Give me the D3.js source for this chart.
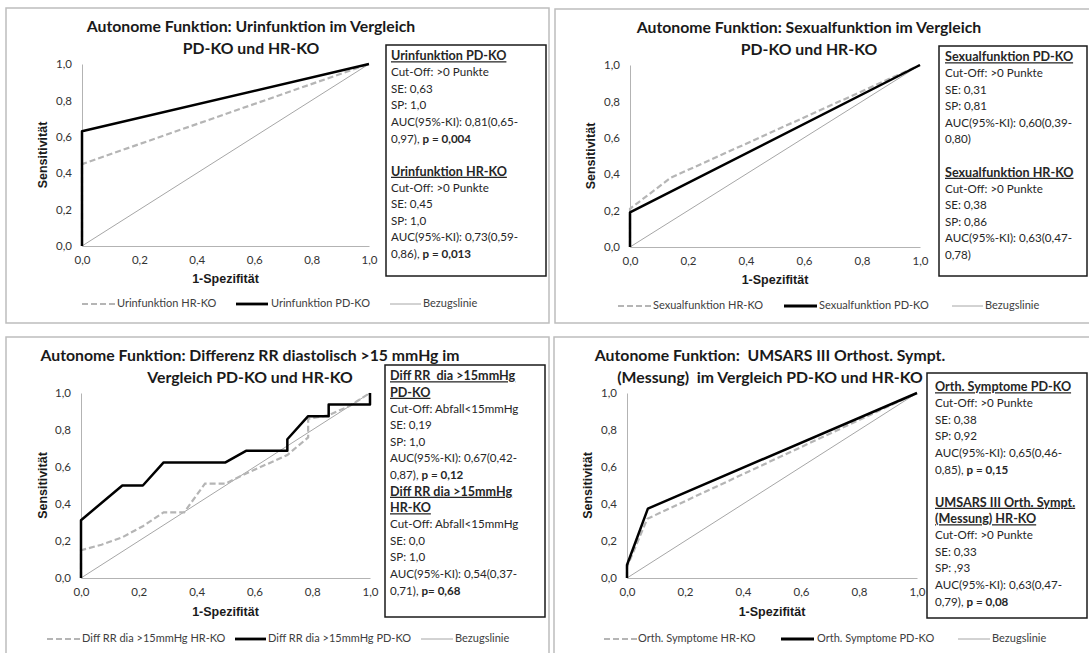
<!DOCTYPE html>
<html>
<head>
<meta charset="utf-8">
<script src="https://cdn.jsdelivr.net/npm/d3@7"></script>
<style>
  body { margin: 0; background: #fff; }
  text { font-family: Lato, "Open Sans", sans-serif; fill: #262626; white-space: pre; }
  .title { font-weight: bold; font-size: 15.8px; fill: #1a1a1a; }
  .tick text { font-size: 11.5px; fill: #333; }
  .axis-title { font-family: "Liberation Sans", Arial, sans-serif; font-weight: bold; font-size: 12.5px; fill: #1a1a1a; }
  .info { font-size: 11.6px; }
  .info-head { font-weight: bold; font-size: 12.6px; text-decoration: underline; }
  .legend-text { font-size: 11px; fill: #404040; }
</style>
</head>
<body>
<div id="chart"></div>
<script>
// ROC curves as [1-Spezifität, Sensitivität]
const ticks = [0, 0.2, 0.4, 0.6, 0.8, 1.0];
const diagonal = [[0, 0], [1, 1]];

const urinHR = [[0, 0], [0, 0.45], [1, 1]];
const urinPD = [[0, 0], [0, 0.63], [1, 1]];

const sexHR = [[0, 0], [0, 0.21], [0.14, 0.38], [1, 1]];
const sexPD = [[0, 0], [0, 0.19], [1, 1]];

const rrHR = [[0, 0], [0, 0.15], [0.071, 0.18], [0.143, 0.22], [0.214, 0.28], [0.286, 0.355], [0.357, 0.355],
  [0.429, 0.51], [0.5, 0.51], [0.571, 0.565], [0.643, 0.615], [0.714, 0.665], [0.786, 0.76], [0.786, 0.86],
  [0.857, 0.88], [0.929, 0.93], [1, 1]];
const rrPD = [[0, 0], [0, 0.3125], [0.143, 0.5], [0.214, 0.5], [0.286, 0.625], [0.5, 0.625], [0.571, 0.6875],
  [0.714, 0.6875], [0.714, 0.75], [0.786, 0.875], [0.857, 0.875], [0.857, 0.9375], [1, 0.9375], [1, 1]];

const orthHR = [[0, 0], [0, 0.06], [0.07, 0.32], [1, 1]];
const orthPD = [[0, 0], [0, 0.07], [0.072, 0.375], [1, 1]];

// titles, legend labels, info box lines ({h} = underlined header, [a, b] = a + bold b)
const urinTitle = ["Autonome Funktion: Urinfunktion im Vergleich", "PD-KO und HR-KO"];
const sexTitle = ["Autonome Funktion: Sexualfunktion im Vergleich", "PD-KO und HR-KO"];
const rrTitle = ["Autonome Funktion: Differenz RR diastolisch >15 mmHg im", "Vergleich PD-KO und HR-KO"];
const orthTitle = ["Autonome Funktion:  UMSARS III Orthost. Sympt.", "(Messung)  im Vergleich PD-KO und HR-KO"];

const urinLegend = ["Urinfunktion HR-KO", "Urinfunktion PD-KO", "Bezugslinie"];
const sexLegend = ["Sexualfunktion HR-KO", "Sexualfunktion PD-KO", "Bezugslinie"];
const rrLegend = ["Diff RR dia >15mmHg HR-KO", "Diff RR dia >15mmHg PD-KO", "Bezugslinie"];
const orthLegend = ["Orth. Symptome HR-KO", "Orth. Symptome PD-KO", "Bezugslinie"];

const urinInfo = [{h: "Urinfunktion PD-KO"}, "Cut-Off: >0 Punkte", "SE: 0,63", "SP: 1,0",
  "AUC(95%-KI): 0,81(0,65-", ["0,97), ", "p = 0,004"], "",
  {h: "Urinfunktion HR-KO"}, "Cut-Off: >0 Punkte", "SE: 0,45", "SP: 1,0",
  "AUC(95%-KI): 0,73(0,59-", ["0,86), ", "p = 0,013"]];
const sexInfo = [{h: "Sexualfunktion PD-KO"}, "Cut-Off: >0 Punkte", "SE: 0,31", "SP: 0,81",
  "AUC(95%-KI): 0,60(0,39-", "0,80)", "",
  {h: "Sexualfunktion HR-KO"}, "Cut-Off: >0 Punkte", "SE: 0,38", "SP: 0,86",
  "AUC(95%-KI): 0,63(0,47-", "0,78)"];
const rrInfo = [{h: "Diff RR  dia >15mmHg"}, {h: "PD-KO"}, "Cut-Off: Abfall<15mmHg", "SE: 0,19", "SP: 1,0",
  "AUC(95%-KI): 0,67(0,42-", ["0,87), ", "p = 0,12"],
  {h: "Diff RR dia >15mmHg"}, {h: "HR-KO"}, "Cut-Off: Abfall<15mmHg", "SE: 0,0", "SP: 1,0",
  "AUC(95%-KI): 0,54(0,37-", ["0,71), ", "p= 0,68"]];
const orthInfo = [{h: "Orth. Symptome PD-KO"}, "Cut-Off: >0 Punkte", "SE: 0,38", "SP: 0,92",
  "AUC(95%-KI): 0,65(0,46-", ["0,85), ", "p = 0,15"], "",
  {h: "UMSARS III Orth. Sympt."}, {h: "(Messung) HR-KO"}, "Cut-Off: >0 Punkte", "SE: 0,33", "SP: ,93",
  "AUC(95%-KI): 0,63(0,47-", ["0,79), ", "p = 0,08"]];

const fmt = d => d.toFixed(1).replace(".", ",");

const svg = d3.select("#chart").append("svg")
  .attr("width", 1089)
  .attr("height", 653);

// layout of the four panels
const panels = [
  {frame: [6, 8, 543, 315], plot: [82, 369, 246, 64], title: urinTitle, titleX: 251, titleY: 28,
   ylabX: 44, xlabY: 280, hr: urinHR, pd: urinPD, legend: urinLegend, legY: 304,
   legX: [[82, 115, 117], [236, 268, 271], [390, 421, 423]],
   box: [386, 45, 160, 231], info: urinInfo, infoX: 391, infoY: 57},
  {frame: [555, 9, 560, 314], plot: [630, 920, 247, 65], title: sexTitle, titleX: 809, titleY: 29,
   ylabX: 592, xlabY: 281, hr: sexHR, pd: sexPD, legend: sexLegend, legY: 306,
   legX: [[618, 651, 653], [784, 817, 819], [952, 983, 985]],
   box: [939, 46, 148, 230], info: sexInfo, infoX: 945, infoY: 58},
  {frame: [6, 337, 543, 330], plot: [81, 370, 578, 393], title: rrTitle, titleX: 250, titleY: 357,
   ylabX: 44, xlabY: 613, hr: rrHR, pd: rrPD, legend: rrLegend, legY: 639,
   legX: [[47, 80, 82], [235, 266, 268], [421, 453, 455]],
   box: [385, 365, 160, 252], info: rrInfo, infoX: 390, infoY: 377},
  {frame: [554, 337, 560, 330], plot: [627, 917, 578, 393], title: orthTitle, titleX: 770, titleY: 357,
   ylabX: 589, xlabY: 613, hr: orthHR, pd: orthPD, legend: orthLegend, legY: 639,
   legX: [[604, 637, 638], [781, 814, 817], [958, 990, 992]],
   box: [927, 373, 160, 245], info: orthInfo, infoX: 935, infoY: 388}
];

panels.forEach(drawPanel);

function drawPanel(p) {
  const g = svg.append("g");

  // outer frame
  g.append("rect")
    .attr("x", p.frame[0]).attr("y", p.frame[1])
    .attr("width", p.frame[2]).attr("height", p.frame[3])
    .attr("fill", "none")
    .attr("stroke", "#bdbdbd")
    .attr("stroke-width", 1.5);

  const [x0, x1, y0, y1] = p.plot;
  const x = d3.scaleLinear().domain([0, 1]).range([x0, x1]);
  const y = d3.scaleLinear().domain([0, 1]).range([y0, y1]);

  // title (two lines)
  p.title.forEach((t, i) => {
    g.append("text")
      .attr("class", "title")
      .attr("x", p.titleX)
      .attr("y", p.titleY + i * 22)
      .attr("text-anchor", "middle")
      .attr("dominant-baseline", "middle")
      .text(t);
  });

  // axes
  const xAxis = g.append("g")
    .attr("transform", `translate(0, ${y0})`)
    .call(d3.axisBottom(x).tickValues(ticks).tickFormat(fmt).tickSize(0).tickPadding(10));
  const yAxis = g.append("g")
    .attr("transform", `translate(${x0}, 0)`)
    .call(d3.axisLeft(y).tickValues(ticks).tickFormat(fmt).tickSize(0).tickPadding(10));
  [xAxis, yAxis].forEach(a => {
    a.attr("font-family", null).attr("font-size", null);
    a.select(".domain").attr("stroke", "#b3b3b3").attr("stroke-width", 1);
  });

  // axis titles
  g.append("text")
    .attr("class", "axis-title")
    .attr("x", (x0 + x1) / 2)
    .attr("y", p.xlabY)
    .attr("text-anchor", "middle")
    .attr("dominant-baseline", "middle")
    .text("1-Spezifität");
  g.append("text")
    .attr("class", "axis-title")
    .attr("transform", `translate(${p.ylabX}, ${(y0 + y1) / 2}) rotate(-90)`)
    .attr("text-anchor", "middle")
    .attr("dominant-baseline", "middle")
    .text("Sensitivität");

  // curves
  const line = d3.line().x(d => x(d[0])).y(d => y(d[1]));
  g.append("path").datum(diagonal)
    .attr("d", line).attr("fill", "none")
    .attr("stroke", "#a6a6a6").attr("stroke-width", 1);
  g.append("path").datum(p.hr)
    .attr("d", line).attr("fill", "none")
    .attr("stroke", "#b5b5b5").attr("stroke-width", 2.2)
    .attr("stroke-dasharray", "6,3");
  g.append("path").datum(p.pd)
    .attr("d", line).attr("fill", "none")
    .attr("stroke", "#000").attr("stroke-width", 2.5)
    .attr("stroke-linejoin", "round");

  // legend
  const legStyles = [
    {stroke: "#b5b5b5", width: 2.2, dash: "6,3"},
    {stroke: "#000", width: 2.8, dash: null},
    {stroke: "#a6a6a6", width: 1, dash: null}
  ];
  p.legend.forEach((label, i) => {
    const [a, b, tx] = p.legX[i];
    g.append("line")
      .attr("x1", a).attr("x2", b)
      .attr("y1", p.legY).attr("y2", p.legY)
      .attr("stroke", legStyles[i].stroke)
      .attr("stroke-width", legStyles[i].width)
      .attr("stroke-dasharray", legStyles[i].dash);
    g.append("text")
      .attr("class", "legend-text")
      .attr("x", tx)
      .attr("y", p.legY)
      .attr("dominant-baseline", "middle")
      .text(label);
  });

  // info box
  g.append("rect")
    .attr("x", p.box[0]).attr("y", p.box[1])
    .attr("width", p.box[2]).attr("height", p.box[3])
    .attr("fill", "#fff")
    .attr("stroke", "#1a1a1a")
    .attr("stroke-width", 1.5);

  p.info.forEach((ln, i) => {
    const t = g.append("text")
      .attr("class", "info")
      .attr("x", p.infoX)
      .attr("y", p.infoY + i * 16.5)
      .attr("dominant-baseline", "middle");
    if (typeof ln === "string") {
      t.text(ln);
    } else if (Array.isArray(ln)) {
      t.append("tspan").text(ln[0]);
      t.append("tspan").attr("font-weight", "bold").text(ln[1]);
    } else {
      t.classed("info-head", true).text(ln.h);
    }
  });
}
</script>
</body>
</html>
